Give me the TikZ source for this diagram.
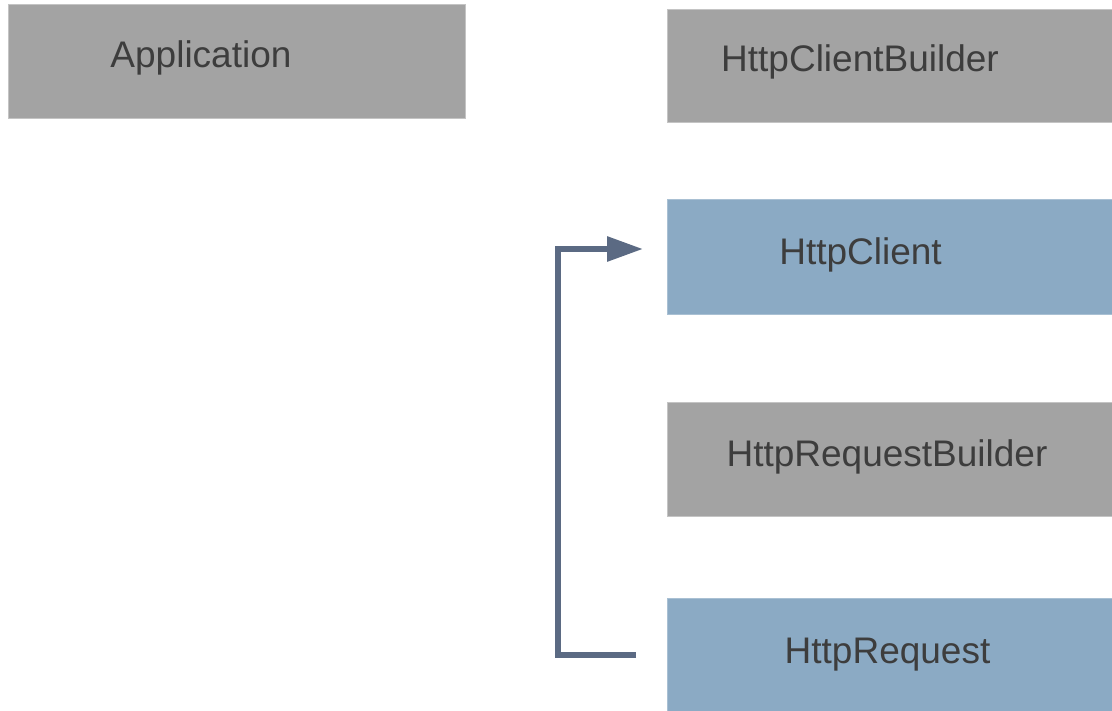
\documentclass[tikz,border=0pt]{standalone}
\usepackage{fontspec}
\setmainfont{Liberation Sans}
\usetikzlibrary{positioning, arrows.meta}
\definecolor{BoxGray}{HTML}{A3A3A3}
\definecolor{BoxBlue}{HTML}{8BAAC4}
\definecolor{EdgeGray}{HTML}{C4C4C4}
\definecolor{EdgeBlue}{HTML}{A9C0D3}
\definecolor{TextGray}{HTML}{3D3D3D}
\definecolor{FlowBlue}{HTML}{5B6A83}

\begin{document}
\begin{tikzpicture}[x=0.5pt, y=-0.5pt,
    graybox/.style={rectangle, fill=BoxGray, draw=EdgeGray, line width=0.5pt, inner sep=0pt},
    bluebox/.style={rectangle, fill=BoxBlue, draw=EdgeBlue, line width=0.5pt, inner sep=0pt},
    boxtext/.style={anchor=base, inner sep=0pt, text=TextGray, font=\fontsize{18.5}{22}\selectfont},
    flow/.style={line width=3pt, draw=FlowBlue, line join=miter, -{Triangle[length=18pt, width=12pt]}}]
                \useasboundingbox (0,0) rectangle (1112,711);

                % Boxes
                \node[graybox, minimum width=228.5pt, minimum height=57pt] (app) at (236.5,62) {};
                \node[graybox, minimum width=222.5pt, minimum height=56.5pt] (clientbuilder) at (889.5,66.5) {};
                \node[bluebox, minimum width=222.5pt, minimum height=57pt] (client) at (889.5,257) {};
                \node[graybox, minimum width=222.5pt, minimum height=57pt] (requestbuilder) at (889.5,459) {};
                \node[bluebox, minimum width=222.5pt, minimum height=56.5pt] (request) at (889.5,654.5) {};

                % Labels
                \node[boxtext] (applabel) at (201,68) {Application};
                \node[boxtext] (clientbuilderlabel) at (860,72) {HttpClientBuilder};
                \node[boxtext] (clientlabel) at (860.5,264) {HttpClient};
                \node[boxtext] (requestbuilderlabel) at (887,466) {HttpRequestBuilder};
                \node[boxtext] (requestlabel) at (887.5,663) {HttpRequest};

                % Request goes to the client
                \coordinate (flowstart) at (636,655);
                \coordinate (flowend) at (643,249);
                \draw[flow] (flowstart) -- (558,655) |- (flowend);
            \end{tikzpicture}
\end{document}
